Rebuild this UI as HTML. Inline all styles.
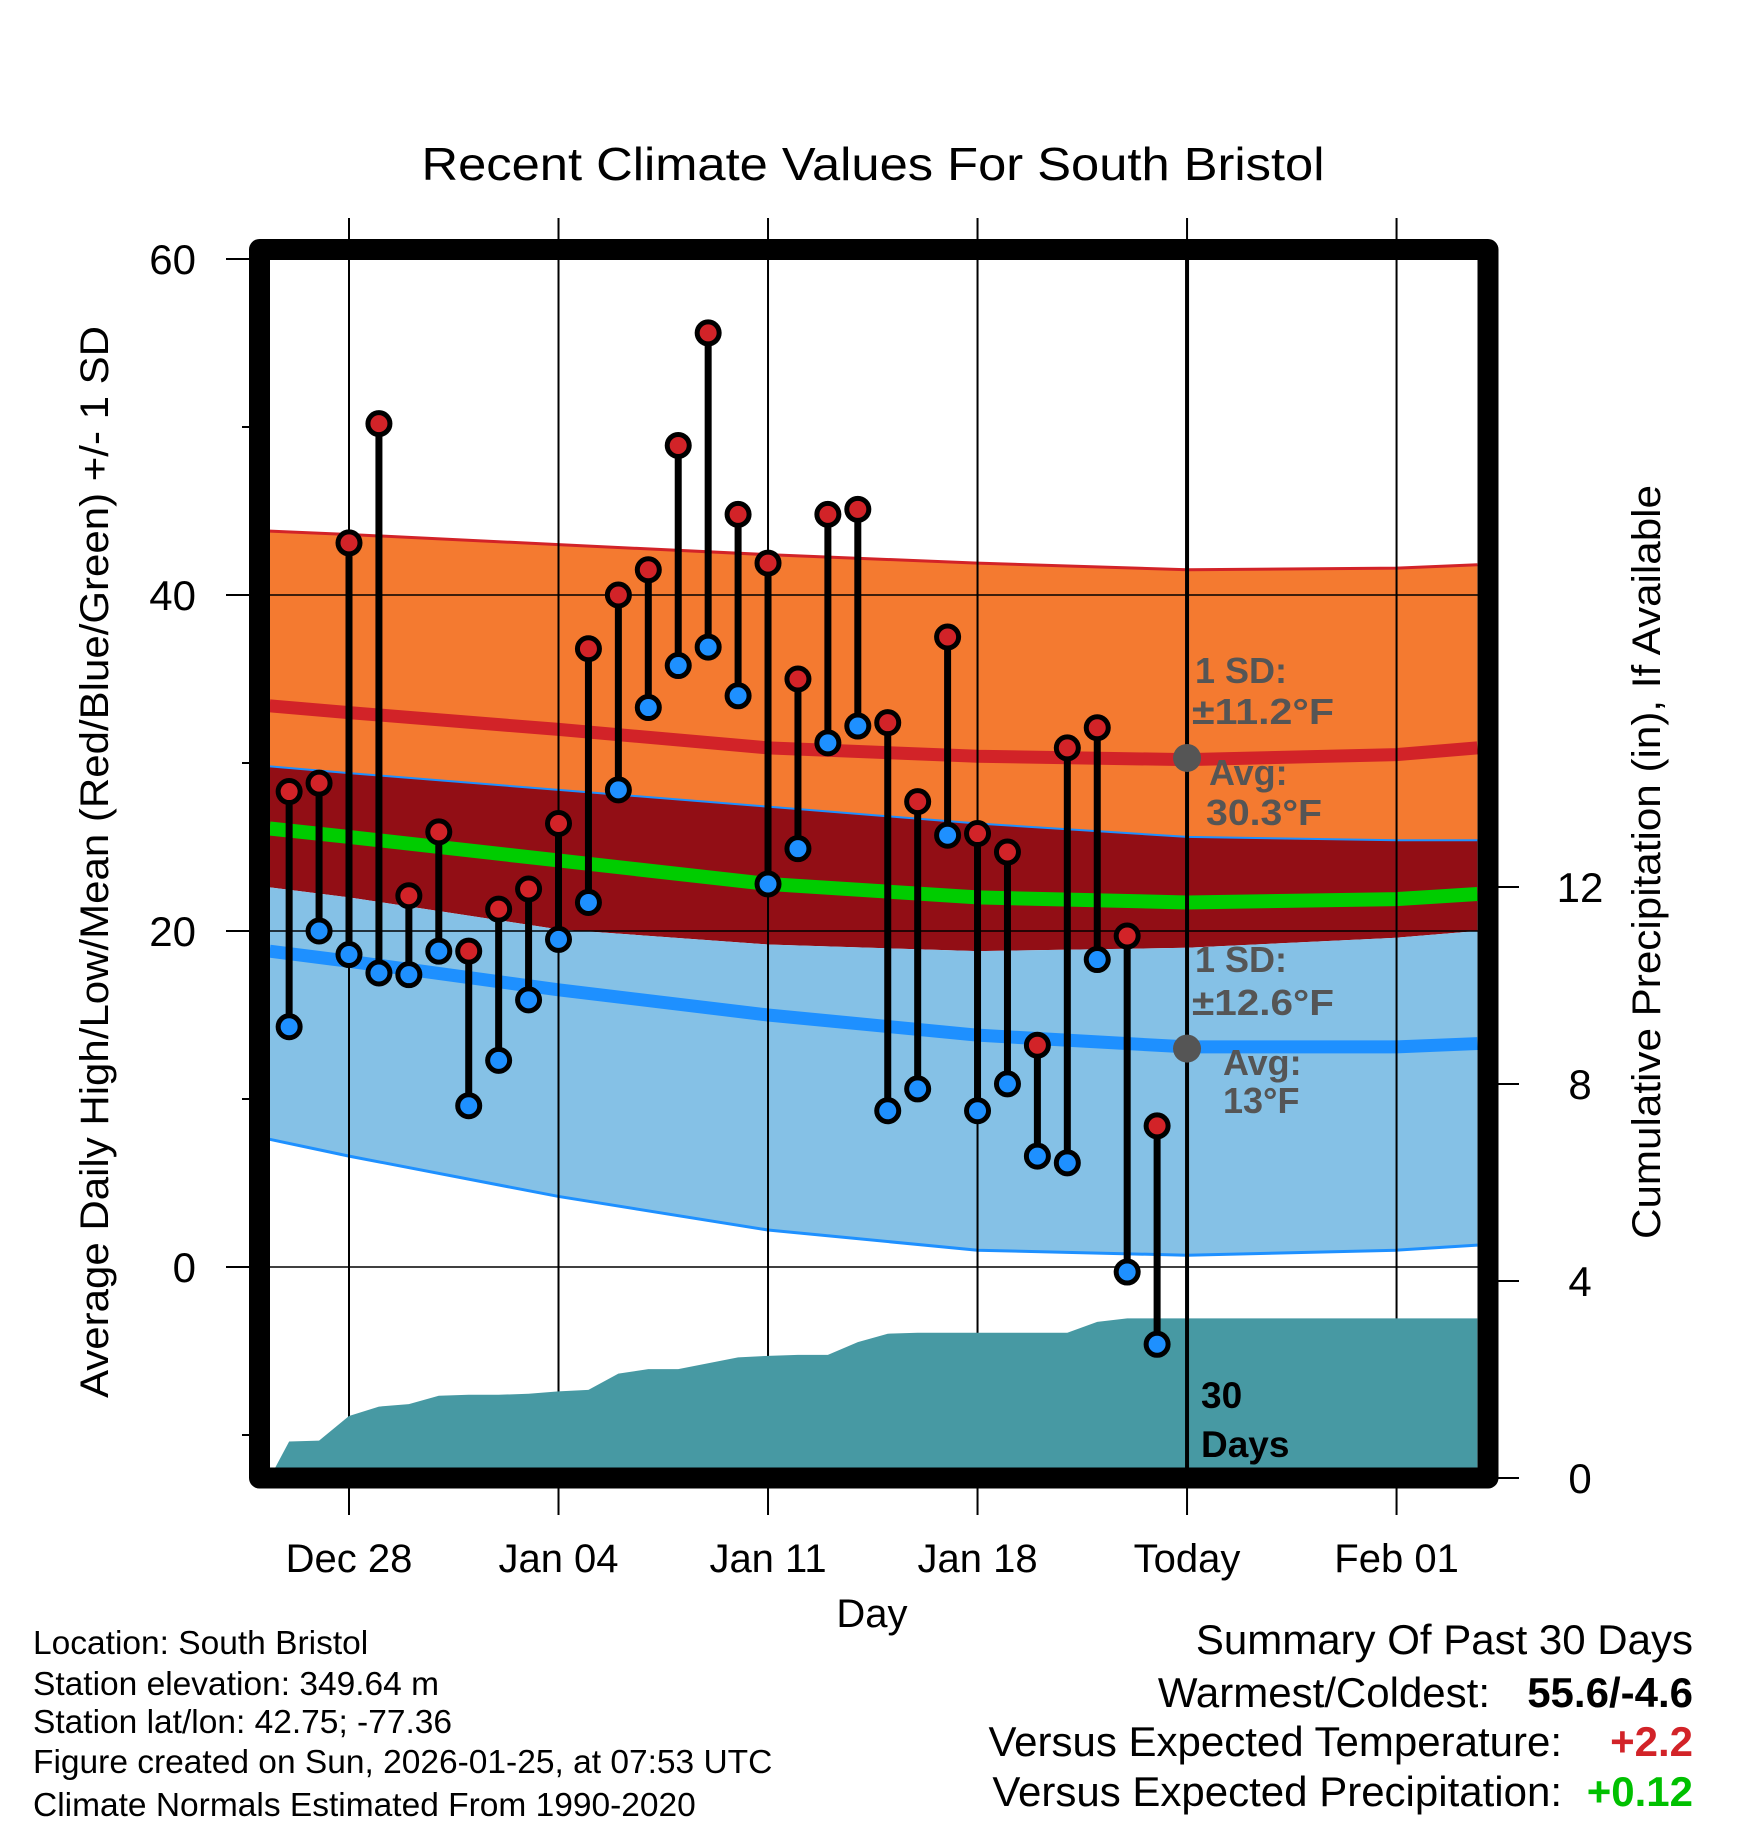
<!DOCTYPE html>
<html><head><meta charset="utf-8"><style>
html,body{margin:0;padding:0;background:#fff}
svg{display:block;font-family:"Liberation Sans",Arial,sans-serif}
</style></head><body>
<svg id="chart" width="1748" height="1828" viewBox="0 0 1748 1828" xmlns="http://www.w3.org/2000/svg">
<defs><clipPath id="plotclip"><rect x="270" y="260" width="1208" height="1208"/></clipPath></defs>
<text x="873" y="180" font-size="46" text-anchor="middle" textLength="903" lengthAdjust="spacingAndGlyphs">Recent Climate Values For South Bristol</text>
<g id="bands" clip-path="url(#plotclip)"></g>
<g id="grid"></g>
<g id="precip" clip-path="url(#plotclip)"></g>
<g id="marks"></g>
<g id="annot">
<text x="1195" y="683" font-size="36" font-weight="bold" fill="#555">1 SD:</text>
<text x="1192" y="724" font-size="36" font-weight="bold" fill="#555" textLength="142" lengthAdjust="spacingAndGlyphs">±11.2°F</text>
<text x="1209" y="785" font-size="36" font-weight="bold" fill="#555">Avg:</text>
<text x="1206" y="825" font-size="36" font-weight="bold" fill="#555" textLength="116" lengthAdjust="spacingAndGlyphs">30.3°F</text>
<text x="1195" y="972" font-size="36" font-weight="bold" fill="#555">1 SD:</text>
<text x="1192" y="1015" font-size="36" font-weight="bold" fill="#555" textLength="142" lengthAdjust="spacingAndGlyphs">±12.6°F</text>
<text x="1223" y="1075" font-size="36" font-weight="bold" fill="#555">Avg:</text>
<text x="1223" y="1113" font-size="36" font-weight="bold" fill="#555">13°F</text>
<text x="1201" y="1408" font-size="37" font-weight="bold">30</text>
<text x="1201" y="1457" font-size="37" font-weight="bold">Days</text>
</g>
<rect x="259.5" y="249.5" width="1228.5" height="1228.5" fill="none" stroke="#000" stroke-width="21" stroke-linejoin="round"/>
<g id="axes"></g>
<text x="872" y="1627" font-size="40" text-anchor="middle">Day</text>
<text transform="translate(108,862) rotate(-90)" font-size="40" text-anchor="middle" textLength="1072" lengthAdjust="spacingAndGlyphs">Average Daily High/Low/Mean (Red/Blue/Green) +/- 1 SD</text>
<text transform="translate(1660,862) rotate(-90)" font-size="40" text-anchor="middle" textLength="754" lengthAdjust="spacingAndGlyphs">Cumulative Precipitation (in), If Available</text>
<g font-size="33.5">
<text x="33" y="1654">Location: South Bristol</text>
<text x="33" y="1695">Station elevation: 349.64 m</text>
<text x="33" y="1733">Station lat/lon: 42.75; -77.36</text>
<text x="33" y="1773">Figure created on Sun, 2026-01-25, at 07:53 UTC</text>
<text x="33" y="1816">Climate Normals Estimated From 1990-2020</text>
</g>
<g font-size="42">
<text x="1693" y="1654" text-anchor="end">Summary Of Past 30 Days</text>
<text x="1490" y="1707" text-anchor="end">Warmest/Coldest:</text>
<text x="1693" y="1707" text-anchor="end" font-weight="bold">55.6/-4.6</text>
<text x="1562" y="1756" text-anchor="end">Versus Expected Temperature:</text>
<text x="1693" y="1756" text-anchor="end" font-weight="bold" fill="#D22328">+2.2</text>
<text x="1562" y="1806" text-anchor="end">Versus Expected Precipitation:</text>
<text x="1693" y="1806" text-anchor="end" font-weight="bold" fill="#00C000">+0.12</text>
</g>
</svg>
<script>
// day index relative to Dec 28 (=0)
const normDays = [-2.65, 0, 7, 14, 21, 28, 35, 37.7];
const highTop = [43.8, 43.6, 43.0, 42.4, 41.9, 41.5, 41.6, 41.8];
const highAvg = [33.4, 33.0, 32.0, 30.9, 30.4, 30.2, 30.5, 30.9];
const highBot = [29.8, 29.4, 28.4, 27.4, 26.4, 25.6, 25.4, 25.4];
const meanAvg = [26.1, 25.6, 24.2, 22.8, 22.0, 21.7, 21.9, 22.2];
const lowTop = [22.6, 22.0, 20.1, 19.2, 18.8, 19.0, 19.6, 20.0];
const lowAvg = [18.8, 18.2, 16.5, 15.0, 13.8, 13.1, 13.1, 13.3];
const lowBot = [7.6, 6.6, 4.2, 2.2, 1.0, 0.7, 1.0, 1.3];

const obsDays = [-2,-1,0,1,2,3,4,5,6,7,8,9,10,11,12,13,14,15,16,17,18,19,20,21,22,23,24,25,26,27];
const highs = [28.3,28.8,43.1,50.2,22.1,25.9,18.8,21.3,22.5,26.4,36.8,40.0,41.5,48.9,55.6,44.8,41.9,35.0,44.8,45.1,32.4,27.7,37.5,25.8,24.7,13.2,30.9,32.1,19.7,8.4];
const lows = [14.3,20.0,18.6,17.5,17.4,18.8,9.6,12.3,15.9,19.5,21.7,28.4,33.3,35.8,36.9,34.0,22.8,24.9,31.2,32.2,9.3,10.6,25.7,9.3,10.9,6.6,6.2,18.3,-0.3,-4.6];
const precipCum = [0.74,0.76,1.26,1.45,1.50,1.67,1.69,1.69,1.71,1.76,1.79,2.12,2.21,2.21,2.33,2.45,2.48,2.50,2.50,2.76,2.93,2.95,2.95,2.95,2.95,2.95,2.95,3.17,3.24,3.24];

const xTickDays = [0, 7, 14, 21, 28, 35];
const xTickLabels = ["Dec 28", "Jan 04", "Jan 11", "Jan 18", "Today", "Feb 01"];
const yTicks = [0, 20, 40, 60];
const yMinor = [-10, 10, 30, 50];
const y2Ticks = [0, 4, 8, 12];
const todayDay = 28;
const todayHighAvg = 30.3, todayLowAvg = 13;

const X = d => 349 + 29.93 * d;
const Y = t => 1267 - 16.8 * t;
const YP = p => 1478 - 49.25 * p;
const NS = "http://www.w3.org/2000/svg";
function mk(tag, parent, attrs) {
  const e = document.createElementNS(NS, tag);
  for (const k in attrs) e.setAttribute(k, attrs[k]);
  parent.appendChild(e);
  return e;
}
const line = arr => normDays.map((d, i) => X(d) + "," + Y(arr[i]));
const area = (top, bot) => line(top).concat(line(bot).reverse()).join(" ");

const bands = document.getElementById("bands");
let e;
e = mk("polygon", bands, {points: area(highTop, highBot), fill: "#F47A30"});


e = mk("polygon", bands, {points: area(highBot, lowTop), fill: "#920E15"});


e = mk("polygon", bands, {points: area(lowTop, lowBot), fill: "#85C1E6"});


e = mk("polyline", bands, {points: line(highTop).join(" "), fill: "none", stroke: "#D22328", "stroke-width": 3});


e = mk("polyline", bands, {points: line(highBot).join(" "), fill: "none", stroke: "#1E90FF", "stroke-width": 2});


e = mk("polyline", bands, {points: line(lowBot).join(" "), fill: "none", stroke: "#1E90FF", "stroke-width": 3});


e = mk("polyline", bands, {points: line(highAvg).join(" "), fill: "none", stroke: "#D22328", "stroke-width": 13});


e = mk("polyline", bands, {points: line(lowAvg).join(" "), fill: "none", stroke: "#1E90FF", "stroke-width": 13});


e = mk("polyline", bands, {points: line(meanAvg).join(" "), fill: "none", stroke: "#00CC00", "stroke-width": 14});



const grid = document.getElementById("grid");
xTickDays.forEach(d => {
  const g = mk("line", grid, {x1: X(d), x2: X(d), y1: 218, y2: 1515, stroke: "#000", "stroke-width": 2});
  
  
});
[0, 20, 40].forEach(t => {
  const g = mk("line", grid, {x1: 270, x2: 1478, y1: Y(t), y2: Y(t), stroke: "#000", "stroke-width": 1.5});
  
  
});

const precip = document.getElementById("precip");
let pts = [X(-2.65) + "," + YP(0)];
obsDays.forEach((d, i) => pts.push(X(d) + "," + YP(precipCum[i])));
pts.push(X(37.7) + "," + YP(precipCum[precipCum.length - 1]));
pts.push(X(37.7) + "," + YP(0));
e = mk("polygon", precip, {points: pts.join(" "), fill: "#4799A3"});



const marks = document.getElementById("marks");
e = mk("line", marks, {x1: X(todayDay), x2: X(todayDay), y1: 260, y2: 1468, stroke: "#000", "stroke-width": 4});


obsDays.forEach((d, i) => {
  const s = mk("line", marks, {x1: X(d), x2: X(d), y1: Y(highs[i]), y2: Y(lows[i]), stroke: "#000", "stroke-width": 7});
  
  
});
obsDays.forEach((d, i) => {
  const h = mk("circle", marks, {cx: X(d), cy: Y(highs[i]), r: 11, fill: "#D22328", stroke: "#000", "stroke-width": 5});
  
  
  const l = mk("circle", marks, {cx: X(d), cy: Y(lows[i]), r: 11, fill: "#1E90FF", stroke: "#000", "stroke-width": 5});
  
  
});
e = mk("circle", marks, {cx: X(todayDay), cy: Y(todayHighAvg), r: 14, fill: "#555"});


e = mk("circle", marks, {cx: X(todayDay), cy: Y(todayLowAvg), r: 14, fill: "#555"});



const axes = document.getElementById("axes");
yTicks.forEach(t => {
  const k = mk("line", axes, {x1: 226, x2: 250, y1: Y(t), y2: Y(t), stroke: "#000", "stroke-width": 2});
  
  
  const l = mk("text", axes, {x: 196, y: Y(t) + 15, "font-size": 42, "text-anchor": "end"});
  l.textContent = String(t);
  
  
});
yMinor.forEach(t => {
  const k = mk("line", axes, {x1: 242, x2: 250, y1: Y(t), y2: Y(t), stroke: "#000", "stroke-width": 2});
  
  
});
y2Ticks.forEach(p => {
  const k = mk("line", axes, {x1: 1498, x2: 1519, y1: YP(p), y2: YP(p), stroke: "#000", "stroke-width": 2});
  
  
  const l = mk("text", axes, {x: 1580, y: YP(p) + 15, "font-size": 42, "text-anchor": "middle"});
  l.textContent = String(p);
  
  
});
xTickDays.forEach((d, i) => {
  const l = mk("text", axes, {x: X(d), y: 1572, "font-size": 40, "text-anchor": "middle"});
  l.textContent = xTickLabels[i];
  
  
});
</script>
</body></html>
